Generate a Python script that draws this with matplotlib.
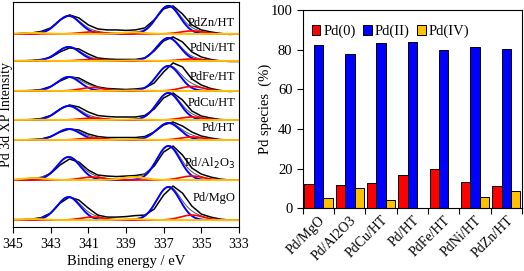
import matplotlib.pyplot as plt
import numpy as np

plt.rcParams["font.family"] = ["Liberation Serif", "DejaVu Serif"]

# --- Bar chart: share of Pd species (%) ---
catalysts = ["Pd/MgO", "Pd/Al2O3", "PdCu/HT", "Pd/HT", "PdFe/HT", "PdNi/HT", "PdZn/HT"]
pd0_share = [12.2, 11.8, 12.8, 16.5, 20.0, 13.3, 11.0]
pd2_share = [82.5, 77.8, 83.2, 83.7, 80.0, 81.2, 80.2]
pd4_share = [5.3, 10.4, 4.0, 0.0, 0.0, 5.5, 8.8]

# --- XPS Pd 3d spectra, top to bottom ---
spectra_labels = ["PdZn/HT", "PdNi/HT", "PdFe/HT", "PdCu/HT", "Pd/HT",
                  "Pd/Al$_2$O$_3$", "Pd/MgO"]
energy_grid = np.linspace(345, 333, 25)
raw_pdzn = [0, 0.5, 1, 2.5, 6, 14, 19, 16, 9, 5, 4, 4, 3.5, 4, 6, 14, 25, 28, 20, 9, 4, 2, 0.5, -0.5, 0]
raw_pdni = [0, 0, 0.5, 1.5, 3.5, 9, 13, 12, 7, 3, 2, 1.5, 1.5, 1.5, 3, 10, 20, 24, 19, 9, 4, 1.5, 0, -0.5, -0.5]
raw_pdfe = [0, 0, 0.5, 1.5, 4.5, 10, 14, 13, 8, 4, 2.5, 2, 1.5, 2, 3, 8, 19, 28, 24, 12, 6, 2.5, 0.5, -0.5, 0]
raw_pdcu = [0, 0, 0.5, 1.5, 4.5, 11, 15, 13, 8, 4.5, 3.5, 3, 3, 3, 4.5, 11, 22, 27, 20, 9, 4, 2, 0.5, 0, 0]
raw_pdht = [0, 0, 0.5, 1, 3.5, 8, 11, 10, 6, 3.5, 2.5, 2.5, 2.5, 2.5, 3.5, 8, 15, 18, 14, 8, 4, 2, 0.5, 0, 0]
raw_pdal = [0, 0.5, 1.5, 2.5, 6.5, 15, 21, 18, 10, 5, 4, 3.5, 4, 4.5, 6, 14, 28, 34, 25, 12, 6, 3, 1, 0, 0]
raw_pdmg = [0.5, 0.5, 1, 2.5, 7, 17, 23, 20, 12, 5, 3, 3, 3.5, 4.5, 5, 11, 25, 34, 27, 14, 6, 3, 1, 0, 0]
raw_spectra = [raw_pdzn, raw_pdni, raw_pdfe, raw_pdcu, raw_pdht, raw_pdal, raw_pdmg]

# fitted components: peak heights of 3d5/2 and 3d3/2 lines
pd2_fit_52 = [28, 23, 25, 27, 17, 34, 33]
pd2_fit_32 = [18, 14, 14, 14, 11, 23, 23]
pd0_fit_52 = [3, 2, 4.5, 3, 3, 4, 5]
pd0_fit_32 = [2, 1.5, 3.5, 2, 2, 3, 3]
pd4_fit_52 = [1.5, 0.5, 0.5, 0.5, 0.5, 3, 1]
pd4_fit_32 = [1, 0.3, 0.3, 0.3, 0.3, 2, 1]
pd2_centers = (336.75, 342.05)
pd0_centers = (335.5, 340.8)
pd4_centers = (338.6, 343.9)
FWHM = 1.45

# layout: vertical offset of each spectrum and its label
offsets = [193, 166, 136, 107, 87, 47, 7]
label_y = [204, 179, 150, 124, 99, 64, 29]

RED = "#FF0000"
BLUE = "#0000FF"
ORANGE = "#FFC000"


def gauss(x, center, height, fwhm=FWHM):
    sigma = fwhm / 2.3548
    return height * np.exp(-0.5 * ((x - center) / sigma) ** 2)


def component(x, centers, h52, h32):
    return gauss(x, centers[0], h52) + gauss(x, centers[1], h32)


fig = plt.figure(figsize=(5.24, 2.71), dpi=100)

# ---- left: spectra ----
ax1 = fig.add_axes([0.0248, 0.162, 0.4312, 0.831])
x = np.linspace(345, 333, 500)
for i, raw in enumerate(raw_spectra):
    base = offsets[i]
    c_pd2 = component(x, pd2_centers, pd2_fit_52[i], pd2_fit_32[i])
    c_pd0 = component(x, pd0_centers, pd0_fit_52[i], pd0_fit_32[i])
    c_pd4 = component(x, pd4_centers, pd4_fit_52[i], pd4_fit_32[i])
    ax1.plot(energy_grid, base + np.array(raw), color="black", lw=1.1)
    ax1.plot(x, base + c_pd2 + c_pd0 + c_pd4, color="#555555", lw=0.7)
    ax1.plot(x, base + c_pd2, color=BLUE, lw=1.4)
    ax1.plot(x, base + c_pd0, color=RED, lw=1.2)
    ax1.plot(x, base + c_pd4, color=ORANGE, lw=1.4)
    ax1.text(333.2, label_y[i], spectra_labels[i], ha="right", va="center",
             fontsize=9)

ax1.set_xlim(345, 333)
ax1.set_ylim(0, 225)
ax1.set_xticks(np.arange(345, 332, -2))
ax1.set_yticks([])
ax1.tick_params(axis="x", direction="out", length=4, labelsize=10)
ax1.set_xlabel("Binding energy / eV", fontsize=10.5, labelpad=3)
ax1.set_ylabel("Pd 3d XP Intensity", fontsize=10, labelpad=0)

# ---- right: bar chart ----
ax2 = fig.add_axes([0.578, 0.232, 0.418, 0.731])
pos = np.arange(len(catalysts))
w = 0.3
ax2.bar(pos - w, pd0_share, w, color=RED, edgecolor="black", lw=0.7, label="Pd(0)")
ax2.bar(pos, pd2_share, w, color=BLUE, edgecolor="black", lw=0.7, label="Pd(II)")
ax2.bar(pos + w, pd4_share, w, color=ORANGE, edgecolor="black", lw=0.7, label="Pd(IV)")
ax2.set_xlim(-0.5, len(catalysts) - 0.5)
ax2.set_ylim(0, 100)
ax2.set_yticks(range(0, 101, 20))
ax2.set_xticks(np.arange(-0.5, len(catalysts), 1))
ax2.set_xticklabels([])
ax2.set_xticks(pos, minor=True)
ax2.set_xticklabels(catalysts, minor=True, rotation=45, ha="right",
                    rotation_mode="anchor", fontsize=10)
ax2.tick_params(axis="x", which="minor", length=0, pad=4)
ax2.tick_params(axis="both", which="major", direction="out", length=4, labelsize=10.5)
ax2.set_ylabel("Pd species  (%)", fontsize=10.5, labelpad=-1)
ax2.legend(ncol=3, loc="upper left", bbox_to_anchor=(0.0, 0.97), frameon=False,
           handlelength=0.6, handleheight=0.6, handletextpad=0.2,
           columnspacing=0.5, fontsize=10.5, borderaxespad=0.2)

fig.savefig("out.png", dpi=100)
